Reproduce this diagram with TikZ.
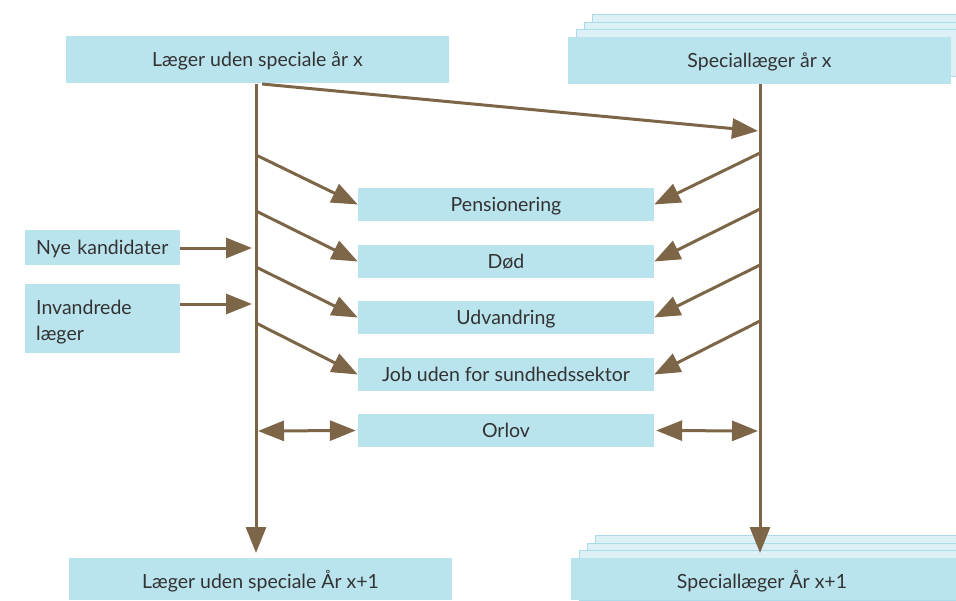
\documentclass[tikz,border=0pt]{standalone}
\usepackage{fontspec}
\setmainfont{Lato}
\usetikzlibrary{arrows.meta}
\definecolor{boxfill}{HTML}{B9E3ED}
\definecolor{layerfill}{HTML}{DCF0F6}
\definecolor{layerline}{HTML}{A9DCE8}
\definecolor{arr}{HTML}{7D6548}
\definecolor{txt}{HTML}{333333}
\begin{document}
\begin{tikzpicture}[x=1pt,y=-1pt,
  box/.style={fill=boxfill, draw=none, text=txt, font=\fontsize{19.5}{26}\selectfont, inner sep=0pt},
  fixt/.style={text height=14pt, text depth=0pt},
  layer/.style={fill=layerfill, draw=layerline, line width=1pt},
  flow/.style={draw=arr, line width=3pt, -{Triangle[length=26pt,width=20pt]}},
  dflow/.style={draw=arr, line width=3pt, {Triangle[length=26pt,width=20pt]}-{Triangle[length=26pt,width=20pt]}},
  vline/.style={draw=arr, line width=3pt}]
\useasboundingbox (0,0) rectangle (956,600);
% stacked layers
\begin{scope}
\clip (0,0) rectangle (956,600);
\draw[layer] (592,14) rectangle (975,61);
\draw[layer] (584,22) rectangle (967,69);
\draw[layer] (576,29) rectangle (959,76);
\draw[layer] (595,535) rectangle (980,600);
\draw[layer] (587,543) rectangle (972,600);
\draw[layer] (579,550) rectangle (964,600);
\end{scope}
% main boxes
\node[box, fixt, minimum width=383pt, minimum height=47pt] (topL) at (257.5,59.5) {Læger uden speciale år x};
\node[box, fixt, minimum width=383pt, minimum height=47pt] (topR) at (759.5,60.5) {Speciallæger år x};
\node[box, fixt, minimum width=383pt, minimum height=42pt, anchor=north west] (botL) at (69,558) {};
\node[box, fill=none, fixt] (botLt) at (260.5,581) {Læger uden speciale År x+1};
\node[box, fixt, minimum width=385pt, minimum height=42pt, anchor=north west] (botR) at (571,558) {};
\node[box, fill=none, fixt] (botRt) at (762,581) {Speciallæger År x+1};
% middle boxes
\node[box, fixt, minimum width=296pt, minimum height=33pt] (pens) at (506,204.5) {Pensionering};
\node[box, fixt, minimum width=296pt, minimum height=33pt] (dod) at (506,261.5) {Død};
\node[box, fixt, minimum width=296pt, minimum height=33pt] (udv) at (506,317.5) {Udvandring};
\node[box, fixt, minimum width=296pt, minimum height=33pt] (job) at (506,374.5) {Job uden for sundhedssektor};
\node[box, fixt, minimum width=296pt, minimum height=33pt] (orl) at (506,430.5) {Orlov};
% left inputs
\node[box, fixt, minimum width=155pt, minimum height=35pt, anchor=north west, align=left, text width=133pt, inner xsep=11pt] (nye) at (25,230) {Nye kandidater};
\node[box, minimum width=155pt, minimum height=69pt, anchor=north west] (inv) at (25,284) {};
\node[box, fill=none, anchor=north west, align=left, text width=133pt] (invt) at (36,300) {Invandrede\\læger};
% coordinates
\coordinate (L0) at (256,84);
\coordinate (L1) at (256,553);
\coordinate (R0) at (760,84);
\coordinate (R1) at (760,553);
\draw[flow] (L0) -- (L1);
\draw[flow] (R0) -- (R1);
\coordinate (dS) at (262,84);
\coordinate (dE) at (758,131);
\draw[flow] (dS) -- (dE);
% left diagonals
\foreach \y/\t in {155/pens,211/dod,267/udv,323/job}{
  \coordinate (a) at (256,\y);
  \draw[flow] (a) -- (\t.west);
}
\foreach \y/\t in {153/pens,209/dod,265/udv,321/job}{
  \coordinate (b) at (760,\y);
  \draw[flow] (b) -- (\t.east);
}
% orlov
\coordinate (oL) at (258,431);
\coordinate (oR) at (758,431);
\draw[dflow] (oL) -- ([xshift=-2pt]orl.west);
\draw[dflow] ([xshift=2pt]orl.east) -- (oR);
% inputs
\coordinate (n1) at (252,248);
\coordinate (n2) at (252,304);
\draw[flow] (nye.east |- n1) -- (n1);
\draw[flow] (inv.east |- n2) -- (n2);
\end{tikzpicture}
\end{document}
